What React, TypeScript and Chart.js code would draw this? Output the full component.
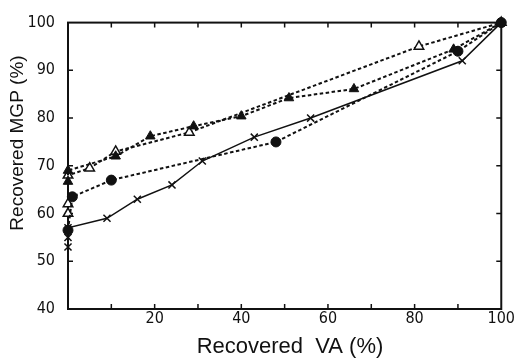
import React, { useEffect, useRef } from "react";
import { Chart, registerables } from "chart.js";
Chart.register(...registerables);

// Series values (Recovered VA %, Recovered MGP %)
const circleX = [0, 1, 10, 48, 90, 100];
const circleY = [56.5, 63.5, 67, 75, 94, 100];
const crossX = [0, 0, 0, 9, 16, 24, 31, 43, 56, 91, 100];
const crossY = [53, 55, 57, 59, 63, 66, 71, 76, 80, 92, 100];
const triFilledX = [0, 0, 11, 19, 29, 40, 51, 66, 89, 100];
const triFilledY = [66.7, 69, 72, 76.2, 78.3, 80.4, 84.2, 86.1, 94.4, 100];
const triOpenX = [0, 0, 0, 5, 11, 28, 81, 100];
const triOpenY = [60, 62, 68, 69.5, 73, 77, 95, 100];

const xTickLabels = [20, 40, 60, 80, 100];
const yTickLabels = [40, 50, 60, 70, 80, 90, 100];
const xTitle = "Recovered  VA (%)";
const yTitle = "Recovered MGP (%)";

const INK = "#111";

const pts = (xs: number[], ys: number[]) => xs.map((x, i) => ({ x, y: ys[i] }));

const framePlugin = {
  id: "frame",
  beforeDatasetsDraw(chart: any) {
    const { ctx, chartArea: a, scales } = chart;
    const xs = scales.x;
    const ys = scales.y;
    ctx.save();
    ctx.strokeStyle = INK;
    ctx.lineWidth = 2;
    ctx.strokeRect(a.left, a.top, a.right - a.left, a.bottom - a.top);
    ctx.lineWidth = 1.5;
    ctx.beginPath();
    for (let v = 10; v < 100; v += 10) {
      const px = xs.getPixelForValue(v);
      ctx.moveTo(px, a.bottom);
      ctx.lineTo(px, a.bottom - 5);
      ctx.moveTo(px, a.top);
      ctx.lineTo(px, a.top + 5);
    }
    for (let v = 50; v < 100; v += 10) {
      const py = ys.getPixelForValue(v);
      ctx.moveTo(a.left, py);
      ctx.lineTo(a.left + 5, py);
      ctx.moveTo(a.right, py);
      ctx.lineTo(a.right - 5, py);
    }
    ctx.stroke();
    ctx.restore();
  },
  afterDraw(chart: any) {
    const { ctx } = chart;
    ctx.save();
    ctx.fillStyle = INK;
    ctx.textAlign = "center";
    ctx.textBaseline = "middle";
    ctx.font = '22px "Liberation Sans", Arial, sans-serif';
    ctx.fillText(xTitle, 290, 347);
    ctx.translate(18, 143);
    ctx.rotate(-Math.PI / 2);
    ctx.font = '19px "Liberation Sans", Arial, sans-serif';
    ctx.fillText(yTitle, 0, 0);
    ctx.restore();
  },
};

export default function App() {
  const ref = useRef<HTMLCanvasElement | null>(null);
  useEffect(() => {
    if (!ref.current) return;
    const tickFont = {
      family: '"DejaVu Sans Condensed", "Liberation Sans Narrow", "Liberation Sans", sans-serif',
      size: 16,
    };
    const chart = new Chart(ref.current, {
      type: "line",
      data: {
        datasets: [
          {
            data: pts(circleX, circleY),
            borderColor: INK,
            borderWidth: 2,
            borderDash: [3.5, 2.5],
            pointStyle: "circle",
            pointRadius: 5,
            pointBackgroundColor: INK,
            pointBorderColor: INK,
            pointBorderWidth: 1,
            clip: false,
          },
          {
            data: pts(crossX, crossY),
            borderColor: INK,
            borderWidth: 1.5,
            pointStyle: "crossRot",
            pointRadius: 5,
            pointBorderColor: INK,
            pointBorderWidth: 1.5,
            clip: false,
          },
          {
            data: pts(triFilledX, triFilledY),
            borderColor: INK,
            borderWidth: 2,
            borderDash: [3.5, 2.5],
            pointStyle: "triangle",
            pointRadius: 5.5,
            pointBackgroundColor: INK,
            pointBorderColor: INK,
            pointBorderWidth: 1,
            clip: false,
          },
          {
            data: pts(triOpenX, triOpenY),
            borderColor: INK,
            borderWidth: 2,
            borderDash: [3.5, 2.5],
            pointStyle: "triangle",
            pointRadius: 5.5,
            pointBackgroundColor: "#fff",
            pointBorderColor: INK,
            pointBorderWidth: 1.5,
            clip: false,
          },
        ] as any,
      },
      options: {
        animation: false,
        responsive: false,
        maintainAspectRatio: false,
        layout: { padding: { top: 21, right: 12, left: 0, bottom: 0 } },
        plugins: { legend: { display: false }, tooltip: { enabled: false } },
        elements: { line: { tension: 0, fill: false } },
        scales: {
          x: {
            type: "linear",
            min: 0,
            max: 100,
            grid: { display: false, drawTicks: false },
            border: { display: false },
            ticks: {
              stepSize: 10,
              autoSkip: false,
              maxRotation: 0,
              padding: 0,
              color: INK,
              font: tickFont,
              callback: (v: any) => (xTickLabels.includes(Number(v)) ? String(v) : ""),
            },
            afterFit: (s: any) => {
              s.height = 53;
            },
          },
          y: {
            type: "linear",
            min: 40,
            max: 100,
            grid: { display: false, drawTicks: false },
            border: { display: false },
            ticks: {
              stepSize: 10,
              autoSkip: false,
              padding: 13,
              color: INK,
              font: tickFont,
              callback: (v: any) => (yTickLabels.includes(Number(v)) ? String(v) : ""),
            },
            afterFit: (s: any) => {
              s.width = 68;
            },
          },
        } as any,
      },
      plugins: [framePlugin],
    });
    return () => chart.destroy();
  }, []);
  return (
    <div style={{ position: "absolute", left: 0, top: 0, width: 515, height: 362, background: "#fff" }}>
      <canvas ref={ref} width={515} height={362} />
    </div>
  );
}
